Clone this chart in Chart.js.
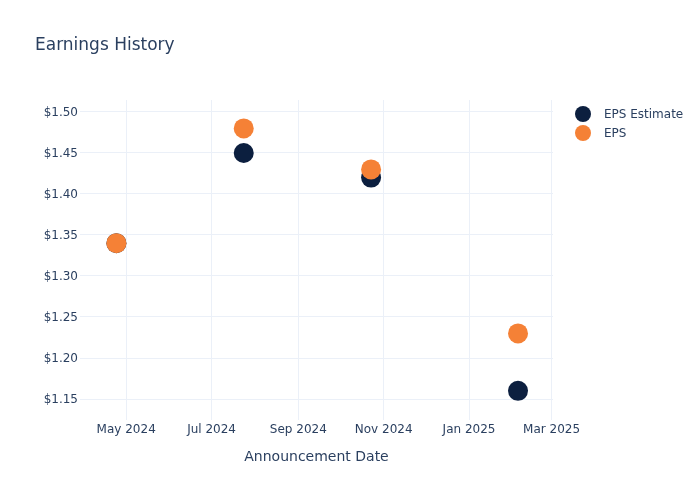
<!DOCTYPE html>
<html>
<head>
<meta charset="utf-8">
<script src="https://cdn.jsdelivr.net/npm/chart.js@4.4.1/dist/chart.umd.min.js"></script>
<style>
    html, body { margin: 0; padding: 0; background: #fff; }
</style>
</head>
<body>
<canvas id="historial" width="700" height="500"></canvas>
<script>
// datos
const fechas = ['2024-04-24', '2024-07-24', '2024-10-23', '2025-02-05'];
const epsEstimado = [1.34, 1.45, 1.42, 1.16];
const epsReal = [1.34, 1.48, 1.43, 1.23];
const marcasX = ['2024-05-01', '2024-07-01', '2024-09-01', '2024-11-01', '2025-01-01', '2025-03-01'];
const marcasY = [1.15, 1.20, 1.25, 1.30, 1.35, 1.40, 1.45, 1.50];
const meses = ['Jan', 'Feb', 'Mar', 'Apr', 'May', 'Jun', 'Jul', 'Aug', 'Sep', 'Oct', 'Nov', 'Dec'];

const colorTexto = '#2a3f5f';
const colorGrilla = '#ebf0f8';
const colorEstimado = '#0c1f3f';
const colorEps = '#f58136';
const fuente = 'DejaVu Sans';

function puntos(valores) {
    var arr = [];
    for (var i = 0; i < fechas.length; i++) {
        arr.push({ x: Date.parse(fechas[i]), y: valores[i] });
    }
    return arr;
}

// titulo y leyenda al estilo plotly
const extras = {
    id: 'extras',
    afterDraw(chart) {
        const ctx = chart.ctx;
        ctx.save();
        ctx.fillStyle = colorTexto;
        ctx.textBaseline = 'middle';
        ctx.font = '17px "' + fuente + '"';
        ctx.fillText('Earnings History', 35, 46);

        const items = [
            { nombre: 'EPS Estimate', color: colorEstimado, y: 114 },
            { nombre: 'EPS', color: colorEps, y: 133 }
        ];
        ctx.font = '12px "' + fuente + '"';
        items.forEach(function (it) {
            ctx.beginPath();
            ctx.arc(583, it.y, 8, 0, Math.PI * 2);
            ctx.fillStyle = it.color;
            ctx.fill();
            ctx.fillStyle = colorTexto;
            ctx.fillText(it.nombre, 604, it.y + 1);
        });
        ctx.restore();
    }
};

const ctx = document.getElementById('historial').getContext('2d');
const grafico = new Chart(ctx, {
    type: 'scatter',
    data: {
        datasets: [{
            label: 'EPS Estimate',
            data: puntos(epsEstimado),
            backgroundColor: colorEstimado,
            borderWidth: 0,
            pointRadius: 10,
            pointHoverRadius: 10,
            order: 1
        }, {
            label: 'EPS',
            data: puntos(epsReal),
            backgroundColor: colorEps,
            borderWidth: 0,
            pointRadius: 10,
            pointHoverRadius: 10,
            order: 0
        }]
    },
    options: {
        responsive: false,
        animation: false,
        layout: {
            padding: { top: 100, right: 147, bottom: 0, left: 0 }
        },
        plugins: {
            legend: { display: false },
            tooltip: { enabled: false }
        },
        scales: {
            x: {
                type: 'linear',
                min: Date.parse('2024-03-29'),
                max: Date.parse('2025-03-02'),
                afterBuildTicks: function (s) {
                    s.ticks = marcasX.map(function (f) { return { value: Date.parse(f) }; });
                },
                afterFit: function (s) { s.height = 80; },
                ticks: {
                    color: colorTexto,
                    font: { family: fuente, size: 12 },
                    padding: 3,
                    maxRotation: 0,
                    callback: function (v) {
                        const d = new Date(v);
                        return meses[d.getUTCMonth()] + ' ' + d.getUTCFullYear();
                    }
                },
                grid: { color: colorGrilla, drawTicks: false },
                border: { display: false },
                title: {
                    display: true,
                    text: 'Announcement Date',
                    color: colorTexto,
                    font: { family: fuente, size: 14 },
                    padding: { top: 0, bottom: 34 }
                }
            },
            y: {
                min: 1.1244,
                max: 1.5146,
                afterBuildTicks: function (s) {
                    s.ticks = marcasY.map(function (v) { return { value: v }; });
                },
                afterFit: function (s) { s.width = 80; },
                ticks: {
                    color: colorTexto,
                    font: { family: fuente, size: 12 },
                    padding: 2,
                    labelOffset: 1,
                    callback: function (v) { return '$' + v.toFixed(2); }
                },
                grid: { color: colorGrilla, drawTicks: false },
                border: { display: false }
            }
        }
    },
    plugins: [extras]
});
</script>
</body>
</html>
